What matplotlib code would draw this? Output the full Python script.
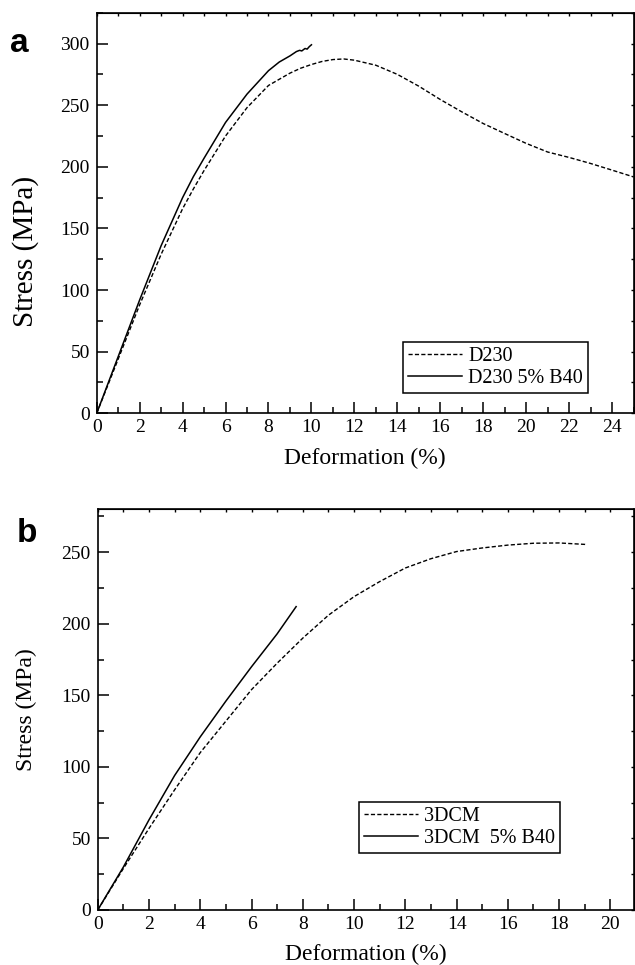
import matplotlib

matplotlib.use("Agg")

import matplotlib.pyplot as plt
from matplotlib.ticker import MultipleLocator

plt.rcParams["font.family"] = ["Liberation Serif", "DejaVu Serif"]

# panel a: D230 systems
d230_x = [0, 1, 2, 3, 4, 4.5, 5, 6, 7, 8, 9, 9.5, 10, 10.5, 11, 11.5, 12, 13, 14, 15,
          16, 17, 18, 19, 20, 21, 22, 23, 24, 25]
d230_y = [0, 44, 88, 129, 166, 182, 197, 225, 248, 266, 276, 280, 283, 285.5, 287,
          287.5, 286.5, 282.4, 275, 265.4, 254.6, 244.6, 235.1, 227, 219, 212, 207.6,
          202.7, 197.3, 191.8]
d230_b40_x = [0, 1, 2, 3, 4, 4.5, 5, 6, 7, 8, 8.5, 9, 9.3, 9.45, 9.55, 9.7, 9.8, 9.9,
              10.0]
d230_b40_y = [0, 46, 92, 136, 175, 192, 207, 236, 259, 278, 285, 290, 293.5, 294.5,
              294, 296, 295.5, 297.5, 299]

# panel b: 3DCM systems
dcm_x = [0, 1, 2, 3, 4, 5, 6, 7, 8, 9, 10, 11, 12, 13, 14, 15, 16, 17, 18, 19, 19.05]
dcm_y = [0, 29, 57, 84, 110, 132, 154, 172.5, 190, 206, 219, 229.5, 239, 245.5,
         250.5, 253, 255, 256.3, 256.5, 255.5, 255.2]
dcm_b40_x = [0, 1, 2, 3, 4, 5, 6, 7, 7.74]
dcm_b40_y = [0, 30, 63, 94, 121, 146, 170, 193, 212]

DASH = (0, (3.0, 1.6))


def style_axis(ax, xmax, ymax, ystep):
    ax.set_xlim(0, xmax)
    ax.set_ylim(0, ymax)
    ax.xaxis.set_major_locator(MultipleLocator(2))
    ax.xaxis.set_minor_locator(MultipleLocator(1))
    ax.yaxis.set_major_locator(MultipleLocator(ystep))
    ax.yaxis.set_minor_locator(MultipleLocator(ystep / 2))
    ax.tick_params(which="major", direction="in", length=8, width=1.1,
                   labelsize=14, pad=4)
    ax.tick_params(which="minor", direction="in", length=4.5, width=1.1)
    ax.tick_params(axis="y", which="major", pad=5)
    for spine in ax.spines.values():
        spine.set_linewidth(1.2)

    top = ax.secondary_xaxis("top")
    top.xaxis.set_major_locator(MultipleLocator(1))
    top.tick_params(direction="in", length=2, width=1, labeltop=False)
    right = ax.secondary_yaxis("right")
    right.yaxis.set_major_locator(MultipleLocator(ystep / 2))
    right.tick_params(direction="in", length=2, width=1, labelright=False)

    ax.set_xlabel("Deformation (%)", fontsize=17, va="center")
    ax.xaxis.set_label_coords(0.5, -0.112)


def add_legend(ax, anchor):
    legend = ax.legend(loc="lower left", bbox_to_anchor=anchor, borderaxespad=0,
                       fontsize=14.5, handlelength=2.7, handletextpad=0.3,
                       borderpad=0.25, labelspacing=0.12, fancybox=False,
                       edgecolor="black", framealpha=1)
    legend.get_frame().set_linewidth(1.1)
    return legend


fig = plt.figure(figsize=(6.35, 9.65), dpi=100)

ax_a = fig.add_axes([0.1523, 0.5717, 0.8454, 0.4151])
ax_a.plot(d230_x, d230_y, color="black", lw=1.0, ls=DASH, label="D230")
ax_a.plot(d230_b40_x, d230_b40_y, color="black", lw=1.1, label="D230 5% B40")
style_axis(ax_a, 25, 325, 50)
ax_a.set_ylabel("Stress (MPa)", fontsize=21, va="center")
ax_a.yaxis.set_label_coords(-0.132, 0.403)
add_legend(ax_a, (0.5706, 0.0507))

ax_b = fig.add_axes([0.1539, 0.0570, 0.8445, 0.4152])
ax_b.plot(dcm_x, dcm_y, color="black", lw=1.0, ls=DASH, label="3DCM")
ax_b.plot(dcm_b40_x, dcm_b40_y, color="black", lw=1.1, label="3DCM  5% B40")
style_axis(ax_b, 20.92, 280, 50)
ax_b.set_ylabel("Stress (MPa)", fontsize=17, va="center")
ax_b.yaxis.set_label_coords(-0.132, 0.5)
add_legend(ax_b, (0.4872, 0.1422))

fig.text(19 / 635, 1 - 44 / 965, "a", family="Liberation Sans", weight="bold",
         fontsize=24, ha="center", va="center")
fig.text(27 / 635, 1 - 534 / 965, "b", family="Liberation Sans", weight="bold",
         fontsize=24, ha="center", va="center")

fig.savefig("out.png", dpi=100)
plt.close(fig)
